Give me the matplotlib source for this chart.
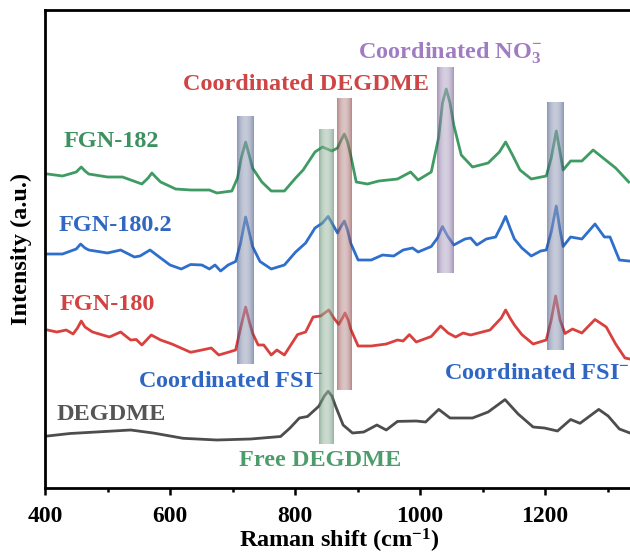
import numpy as np
import matplotlib
matplotlib.use("Agg")
import matplotlib.pyplot as plt

plt.rcParams['font.family'] = ['Liberation Serif', 'DejaVu Serif']
plt.rcParams['font.weight'] = 'bold'
plt.rcParams['mathtext.fontset'] = 'custom'
plt.rcParams['mathtext.rm'] = 'Liberation Serif:bold'
plt.rcParams['mathtext.it'] = 'Liberation Serif:bold'
plt.rcParams['mathtext.bf'] = 'Liberation Serif:bold'

# ---------------- data ----------------
fgn182_x = [404, 428, 450, 458, 464, 470, 500, 524, 555, 565, 571, 577, 585, 609, 633, 663, 675, 699,
            708, 714, 721, 727, 732, 747, 762, 783, 801, 813, 832, 844, 859, 868, 874, 879, 884, 889,
            898, 916, 934, 964, 985, 997, 1018, 1030, 1036, 1042, 1048, 1054, 1066, 1084, 1109, 1127,
            1137, 1148, 1160, 1178, 1202, 1210, 1218, 1224, 1229, 1241, 1259, 1277, 1295, 1313, 1334]
fgn182_y = [314, 312, 316, 321, 317, 314, 311, 311, 304, 310, 315, 311, 306, 299, 298, 298, 295, 297,
            310, 330, 346, 332, 320, 306, 297, 297, 310, 318, 336, 341, 337, 340, 348, 354, 346, 333,
            306, 304, 307, 309, 316, 308, 316, 351, 385, 399, 385, 363, 333, 321, 325, 336,
            346, 333, 318, 309, 312, 330, 357, 336, 318, 327, 327, 338, 329, 320, 306]

fgn1802_x = [404, 428, 450, 457, 464, 470, 500, 521, 543, 552, 568, 585, 600, 618, 633, 651, 663, 672,
             681, 693, 705, 713, 721, 727, 732, 744, 762, 783, 801, 817, 832, 844, 853, 860, 868, 874,
             879, 884, 889, 901, 922, 940, 958, 973, 988, 997, 1018, 1028, 1036, 1044, 1054, 1072, 1081,
             1091, 1106, 1121, 1130, 1137, 1144, 1151, 1163, 1178, 1193, 1202, 1210, 1218, 1224, 1229,
             1241, 1259, 1280, 1295, 1304, 1319, 1334]
fgn1802_y = [234, 234, 239, 244, 240, 238, 235, 238, 231, 232, 238, 230, 223, 219, 223.5, 223, 219, 223,
             217, 223, 226.5, 245, 271, 255, 241.5, 226.5, 219, 223, 236, 245, 260, 265, 271.6, 264, 255, 262,
             267, 258, 245, 228, 228, 233, 232, 238, 240, 236, 241.5, 250, 261.5, 252, 243, 249, 250,
             243, 249, 251, 262, 271.6, 260, 249, 240, 232, 237, 238, 256, 282, 258, 241.5,
             251, 249, 264, 251, 251, 228, 227]

fgn180_x = [404, 419, 434, 445, 452, 458, 464, 476, 503, 521, 537, 546, 555, 570, 585, 603, 633, 651,
            666, 678, 693, 705, 713, 721, 727, 732, 741, 750, 762, 771, 783, 804, 817, 829, 841, 854,
            862, 870, 876, 880, 885, 889, 901, 922, 946, 964, 973, 983, 994, 1018, 1033, 1045, 1057,
            1069, 1081, 1112, 1130, 1137, 1144, 1151, 1163, 1181, 1202, 1210, 1217, 1224, 1232, 1244,
            1259, 1280, 1298, 1313, 1328, 1336]
fgn180_y = [158, 156, 158, 154, 160, 167, 161, 156, 151, 156, 148, 148.5, 143, 153, 148, 144, 135.7, 138,
            140, 133, 135.7, 138, 160, 181, 166, 155, 143, 143, 133, 138, 133, 153.4, 156, 171, 172, 178,
            170, 163.6, 170, 175, 168, 159, 142, 142, 144, 148, 147, 153.4, 146, 151.5, 162, 155, 151,
            155, 153, 158, 170, 178, 170, 163, 153.4, 144, 148, 168, 192, 168, 154.5, 159,
            155, 168.5, 161, 144, 130, 129]

degdme_x = [404, 440, 482, 537, 573, 621, 675, 729, 777, 792, 807, 820, 838, 847, 853, 859, 865, 877,
            892, 910, 931, 946, 964, 994, 1009, 1030, 1048, 1084, 1109, 1136, 1157, 1181, 1199, 1220,
            1241, 1256, 1286, 1301, 1319, 1336]
degdme_y = [52, 54.5, 56, 58, 55, 49.7, 48, 49, 51.5, 60, 70, 71.5, 81.7, 92, 96.7, 92, 81.7, 63,
            55, 56, 63, 58, 66.6, 67, 66, 78.6, 70, 70, 76, 88.4, 74, 61, 60, 57,
            68.5, 64.7, 78.6, 72, 59, 55]

series_colors = ['#3f9b63', '#2f6fcc', '#d9413f', '#4d4d4d']

# shaded bands: center, width, bottom, top
band_centers = [721, 850, 879, 1041, 1216]
band_widths = [27, 23, 24, 27, 26]
band_bottoms = [124, 44, 98, 215, 138]
band_tops = [372, 359, 390, 421, 386]
band_edge_obs = [(138, 150, 182), (148, 180, 160), (180, 135, 135), (165, 150, 186), (138, 150, 182)]
band_center_obs = [(198, 203, 216), (204, 218, 208), (220, 196, 196), (214, 207, 224), (198, 203, 216)]

# ---------------- figure ----------------
fig = plt.figure(figsize=(6.3, 5.56), dpi=100)
ax = fig.add_axes([45 / 630, 1 - 488 / 556, (632.5 - 45) / 630, (488 - 10) / 556])

for xs, ys, c in zip([fgn182_x, fgn1802_x, fgn180_x, degdme_x],
                     [fgn182_y, fgn1802_y, fgn180_y, degdme_y], series_colors):
    ax.plot(xs, ys, color=c, lw=2.0, zorder=2, solid_joinstyle='round')

alpha = 0.55
for cx, w, b, t, eo, co in zip(band_centers, band_widths, band_bottoms, band_tops,
                                band_edge_obs, band_center_obs):
    n = 64
    tt = np.linspace(-1, 1, n)
    wgt = 1 - tt ** 2
    e = np.clip((np.array(eo) / 255 - (1 - alpha)) / alpha, 0, 1)
    c = np.clip((np.array(co) / 255 - (1 - alpha)) / alpha, 0, 1)
    cols = e[None, :] * (1 - wgt[:, None]) + c[None, :] * wgt[:, None]
    rgba = np.zeros((1, n, 4))
    rgba[0, :, :3] = cols
    rgba[0, :, 3] = alpha
    ax.imshow(rgba, extent=[cx - w / 2, cx + w / 2, b, t], aspect='auto', zorder=3,
              interpolation='bilinear')

ax.set_xlim(400, 1340)
ax.set_ylim(0, 478)
ax.set_aspect('auto')

fs = 17.5
ax.text(429, 341, 'FGN-182', color='#3d9160', fontsize=fs, fontweight='bold', va='baseline')
ax.text(421, 257, 'FGN-180.2', color='#2f67c2', fontsize=fs, fontweight='bold', va='baseline')
ax.text(424, 178, 'FGN-180', color='#d24242', fontsize=fs, fontweight='bold', va='baseline')
ax.text(419, 68, 'DEGDME', color='#555555', fontsize=fs, fontweight='bold', va='baseline')
ax.text(549, 101, r'Coordinated FSI$^{-}$', color='#2f66c4', fontsize=fs, fontweight='bold', va='baseline')
ax.text(1039, 109, r'Coordinated FSI$^{-}$', color='#2f66c4', fontsize=fs, fontweight='bold',
        va='baseline', clip_on=False)
ax.text(901, 430, r'Coordinated NO$_3^{-}$', color='#a07cc2', fontsize=fs, fontweight='bold', va='baseline')
ax.text(621, 398, 'Coordinated DEGDME', color='#cf4545', fontsize=fs, fontweight='bold', va='baseline')
ax.text(710, 22, 'Free DEGDME', color='#4c9c6c', fontsize=fs, fontweight='bold', va='baseline')

ax.set_xticks([400, 600, 800, 1000, 1200])
ax.set_xticks(np.arange(500, 1400, 200), minor=True)
ax.set_yticks([])
ax.tick_params(axis='x', which='major', direction='out', length=5, width=1.8, labelsize=17, pad=8)
ax.tick_params(axis='x', which='minor', direction='out', length=3, width=1.8)
for lab in ax.get_xticklabels():
    lab.set_fontweight('bold')
for s in ['left', 'bottom', 'top', 'right']:
    ax.spines[s].set_linewidth(2.0)

ax.set_xlabel(r'Raman shift (cm$^{-1}$)', fontsize=fs, fontweight='bold', labelpad=0)
ax.set_ylabel('Intensity (a.u.)', fontsize=fs, fontweight='bold', labelpad=9)

fig.savefig('out.png', dpi=100)
